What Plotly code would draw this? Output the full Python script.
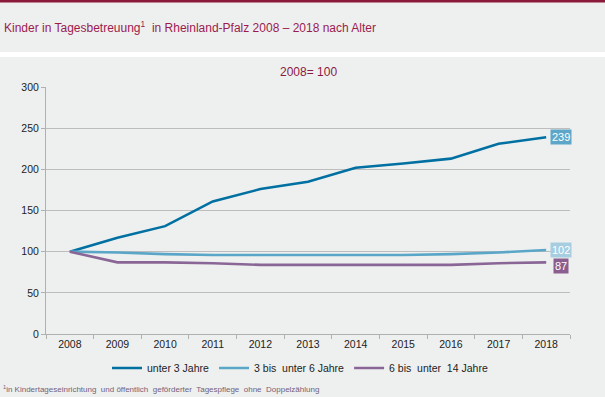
import plotly.graph_objects as go

years = ["2008", "2009", "2010", "2011", "2012", "2013", "2014", "2015", "2016", "2017", "2018"]
unter3 = [100, 117, 131, 161, 176, 185, 202, 207, 213, 231, 239]
drei_bis_6 = [100, 99, 97, 96, 96, 96, 96, 96, 97, 99, 102]
sechs_bis_14 = [100, 87, 87, 86, 84, 84, 84, 84, 84, 86, 87]
series_names = ["unter 3 Jahre", "3 bis  unter 6 Jahre", "6 bis  unter  14 Jahre"]
colors = ["#0070a2", "#5aa6c8", "#8a6696"]
label_bg = ["#5ea6c8", "#a6cde0", "#8a5e8e"]

W, H = 605, 397
L, R, T, B = 46, 35, 87, 63
ph = H - T - B
pw = W - L - R
FONT = "Liberation Sans, Arial, sans-serif"


def py(px):
    return (H - B - px) / ph


def pxx(px):
    return (px - L) / pw


fig = go.Figure()
for name, vals, c in zip(series_names, [unter3, drei_bis_6, sechs_bis_14], colors):
    fig.add_trace(go.Scatter(x=years, y=vals, mode="lines", name=name,
                             line=dict(color=c, width=2.6)))

annotations = []
# end labels
for vals, bg, ysh in zip([unter3, drei_bis_6, sechs_bis_14], label_bg, [0, 0, -4]):
    annotations.append(dict(x=len(years) - 1, y=vals[-1], xref="x", yref="y", text=str(vals[-1]),
                            showarrow=False, xanchor="center", yanchor="middle",
                            xshift=15, yshift=ysh, bgcolor=bg, borderpad=1,
                            font=dict(color="white", size=11, family=FONT)))
# subtitle
annotations.append(dict(x=pxx(308), y=py(72), xref="paper", yref="paper", text="2008= 100",
                        showarrow=False, xanchor="center", yanchor="middle",
                        font=dict(color="#8b1a42", size=12, family=FONT)))
# title
annotations.append(dict(x=pxx(2), y=py(27), xref="paper", yref="paper", xanchor="left", yanchor="middle",
                        text="Kinder in Tagesbetreuung<sup>1</sup>  in Rheinland-Pfalz 2008 – 2018 nach Alter",
                        showarrow=False, font=dict(color="#9b1b4f", size=12, family=FONT)))
# footnote
annotations.append(dict(x=pxx(1), y=py(389), xref="paper", yref="paper", xanchor="left", yanchor="middle",
                        text="<sup>1</sup>in Kindertageseinrichtung  und öffentlich  geförderter  Tagespflege  ohne  Doppelzählung",
                        showarrow=False, font=dict(color="#74607a", size=8, family=FONT)))

shapes = [
    dict(type="rect", xref="paper", yref="paper", x0=pxx(0), x1=pxx(W), y0=py(57), y1=py(52),
         fillcolor="white", line_width=0, layer="below"),
    dict(type="rect", xref="paper", yref="paper", x0=pxx(0), x1=pxx(W), y0=py(2.5), y1=py(0),
         fillcolor="#8b1a3a", line_width=0, layer="below"),
]

fig.update_layout(
    width=W, height=H,
    margin=dict(l=L, r=R, t=T, b=B, autoexpand=False),
    paper_bgcolor="#eef0ef", plot_bgcolor="#eef0ef",
    font=dict(family=FONT, size=10, color="#222"),
    showlegend=True,
    legend=dict(orientation="h", x=pxx(300), xanchor="center", y=py(368), yanchor="middle",
                font=dict(size=10.5, color="#222"), bgcolor="rgba(0,0,0,0)",
                itemwidth=30, tracegroupgap=0),
    annotations=annotations,
    shapes=shapes,
)
fig.update_xaxes(type="category", showgrid=False, showline=True, linecolor="#b0b0b0", linewidth=1,
                 ticks="outside", tickson="boundaries", ticklen=4, tickcolor="#b0b0b0",
                 tickfont=dict(size=10.5, color="#222"), range=[-0.5, 10.5])
fig.update_yaxes(range=[0, 300], dtick=50, showgrid=True, gridcolor="#bdbdbd", gridwidth=1,
                 showline=True, linecolor="#b0b0b0", ticks="outside", ticklen=4, tickcolor="#b0b0b0",
                 zeroline=False, tickfont=dict(size=10.5, color="#222"))

fig.write_html("out.html", config={"displayModeBar": False},
               post_script="document.body.style.margin='0';document.body.style.padding='0';")
